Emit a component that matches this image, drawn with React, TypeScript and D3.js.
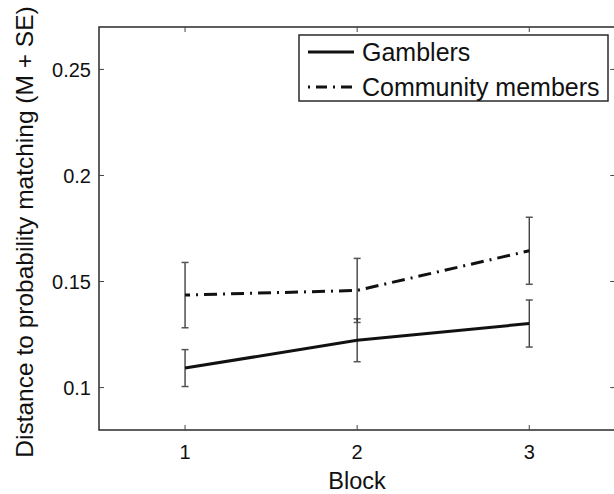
import React, { useEffect, useRef } from "react";
import * as d3 from "d3";

const blocks = [1, 2, 3];
const seriesNames = ["Gamblers", "Community members"];
const gamblersMean = [0.1092, 0.1223, 0.1302];
const gamblersSE = [0.0087, 0.0101, 0.0111];
const communityMean = [0.1436, 0.1458, 0.1645];
const communitySE = [0.0154, 0.0151, 0.0158];
const yTicks = [0.1, 0.15, 0.2, 0.25];

const App = () => {
  const svgRef = useRef<SVGSVGElement>(null);
  const svgWidth = 614;
  const svgHeight = 494;

  useEffect(() => {
    const MARGIN = { TOP: 27, LEFT: 99, BOTTOM: 64 };
    const plotRight = 615.3;
    const plotBottom = svgHeight - MARGIN.BOTTOM;
    const font = "'Liberation Sans', Arial, Helvetica, sans-serif";
    const ink = "#111";

    const svg = d3.select(svgRef.current);
    svg.selectAll("*").remove();

    const x = d3.scaleLinear().domain([0.5, 3.5]).range([MARGIN.LEFT, plotRight]);
    const y = d3.scaleLinear().domain([0.08, 0.27]).range([plotBottom, MARGIN.TOP]);

    // axes box
    svg
      .append("rect")
      .attr("x", MARGIN.LEFT)
      .attr("y", MARGIN.TOP)
      .attr("width", plotRight - MARGIN.LEFT)
      .attr("height", plotBottom - MARGIN.TOP)
      .attr("fill", "none")
      .attr("stroke", "#2a2a2a")
      .attr("stroke-width", 1.5);

    // x ticks (bottom + top, inward)
    blocks.forEach((b) => {
      svg.append("line").attr("x1", x(b)).attr("x2", x(b)).attr("y1", plotBottom).attr("y2", plotBottom - 5).attr("stroke", "#444");
      svg.append("line").attr("x1", x(b)).attr("x2", x(b)).attr("y1", MARGIN.TOP).attr("y2", MARGIN.TOP + 5).attr("stroke", "#444");
      svg
        .append("text")
        .attr("x", x(b))
        .attr("y", plotBottom + 29)
        .attr("text-anchor", "middle")
        .attr("font-family", font)
        .attr("font-size", 20)
        .attr("fill", ink)
        .text(b);
    });

    // y ticks (left + right, inward)
    yTicks.forEach((t) => {
      svg.append("line").attr("x1", MARGIN.LEFT).attr("x2", MARGIN.LEFT + 5).attr("y1", y(t)).attr("y2", y(t)).attr("stroke", "#444");
      svg.append("line").attr("x1", plotRight).attr("x2", plotRight - 5).attr("y1", y(t)).attr("y2", y(t)).attr("stroke", "#444");
      svg
        .append("text")
        .attr("x", MARGIN.LEFT - 8)
        .attr("y", y(t))
        .attr("dy", "0.36em")
        .attr("text-anchor", "end")
        .attr("font-family", font)
        .attr("font-size", 20)
        .attr("fill", ink)
        .text(String(t));
    });

    // axis titles
    svg
      .append("text")
      .attr("x", 357)
      .attr("y", 489)
      .attr("text-anchor", "middle")
      .attr("font-family", font)
      .attr("font-size", 23.5)
      .attr("fill", ink)
      .text("Block");

    svg
      .append("text")
      .attr("transform", `translate(33, 232) rotate(-90)`)
      .attr("text-anchor", "middle")
      .attr("font-family", font)
      .attr("font-size", 24.5)
      .attr("fill", ink)
      .text("Distance to probability matching (M + SE)");

    const series = [
      { name: seriesNames[0], mean: gamblersMean, se: gamblersSE, dash: null as string | null },
      { name: seriesNames[1], mean: communityMean, se: communitySE, dash: "13,6,2,6" },
    ];

    const line = d3
      .line<number>()
      .x((_, i) => x(blocks[i]))
      .y((d) => y(d));

    // error bars
    series.forEach((s) => {
      s.mean.forEach((m, i) => {
        const cx = x(blocks[i]);
        const top = y(m + s.se[i]);
        const bot = y(m - s.se[i]);
        svg.append("line").attr("x1", cx).attr("x2", cx).attr("y1", top).attr("y2", bot).attr("stroke", "#222").attr("stroke-width", 1.2);
        [top, bot].forEach((yy) => {
          svg.append("line").attr("x1", cx - 3.5).attr("x2", cx + 3.5).attr("y1", yy).attr("y2", yy).attr("stroke", "#555").attr("stroke-width", 1.5);
        });
      });
    });

    // lines
    series.forEach((s) => {
      const p = svg
        .append("path")
        .datum(s.mean)
        .attr("d", line)
        .attr("fill", "none")
        .attr("stroke", "#111")
        .attr("stroke-width", 3);
      if (s.dash) p.attr("stroke-dasharray", s.dash).attr("stroke-dashoffset", 8);
    });

    // legend
    const lg = svg.append("g");
    lg.append("rect")
      .attr("x", 299)
      .attr("y", 35)
      .attr("width", 309)
      .attr("height", 66)
      .attr("fill", "white")
      .attr("stroke", "#2a2a2a")
      .attr("stroke-width", 1.5);
    series.forEach((s, i) => {
      const ly = 52 + i * 35;
      const l = lg
        .append("line")
        .attr("x1", 308)
        .attr("x2", 354)
        .attr("y1", ly)
        .attr("y2", ly)
        .attr("stroke", "#111")
        .attr("stroke-width", 3);
      if (s.dash) l.attr("stroke-dasharray", "2,6,11,6").attr("stroke-dashoffset", 0);
      lg.append("text")
        .attr("x", 362)
        .attr("y", ly)
        .attr("dy", "0.36em")
        .attr("font-family", font)
        .attr("font-size", 25)
        .attr("fill", ink)
        .text(s.name);
    });
  }, []);

  return (
    <svg
      ref={svgRef}
      width={svgWidth}
      height={svgHeight}
      style={{ position: "absolute", left: 0, top: 0, background: "white" }}
    />
  );
};

export default App;
